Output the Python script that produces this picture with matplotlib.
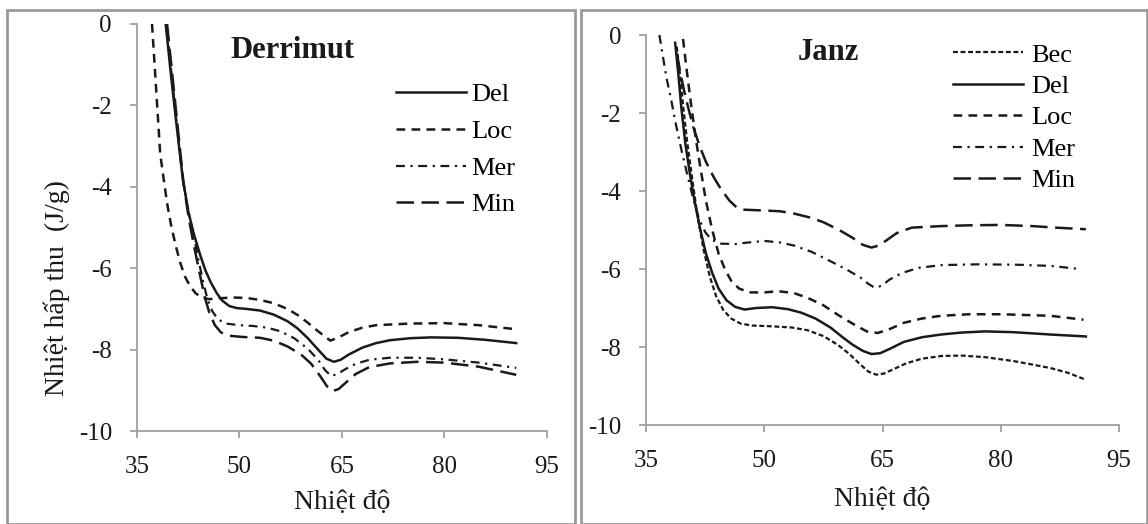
import matplotlib
matplotlib.use("Agg")
import matplotlib.pyplot as plt
from matplotlib.patches import Rectangle

plt.rcParams['font.family'] = ['Liberation Serif', 'DejaVu Serif']
plt.rcParams['axes.unicode_minus'] = False

# Derrimut
d_del_x = [39.2, 40.0, 40.8, 41.7, 42.5, 43.3, 44.2, 45.0, 45.8, 46.7, 47.5, 48.5, 49.6, 51.0, 53.0, 55.0, 57.0, 58.5, 60.0, 61.5, 62.7, 63.8, 64.8, 66.0, 68.0, 70.0, 72.0, 75.0, 78.0, 82.0, 86.0, 90.5]
d_del_y = [0.0, -1.3, -2.5, -3.8, -4.6, -5.15, -5.65, -6.05, -6.35, -6.62, -6.8, -6.93, -6.98, -7.0, -7.04, -7.14, -7.3, -7.48, -7.72, -8.0, -8.22, -8.3, -8.25, -8.12, -7.95, -7.84, -7.77, -7.72, -7.7, -7.71, -7.76, -7.84]
d_loc_x = [37.2, 37.5, 37.8, 38.1, 38.4, 38.9, 39.4, 40.0, 40.6, 41.3, 42.0, 42.8, 43.6, 44.5, 45.5, 47.0, 49.0, 51.0, 53.0, 55.0, 57.0, 58.5, 60.0, 61.5, 63.3, 64.5, 66.0, 68.0, 70.0, 75.0, 80.0, 85.0, 90.5]
d_loc_y = [0.0, -0.8, -1.6, -2.4, -3.2, -3.8, -4.4, -4.95, -5.4, -5.85, -6.2, -6.45, -6.62, -6.72, -6.76, -6.74, -6.72, -6.73, -6.78, -6.86, -7.0, -7.15, -7.34, -7.55, -7.78, -7.7, -7.57, -7.46, -7.4, -7.36, -7.35, -7.4, -7.5]
d_mer_x = [39.3, 40.1, 40.9, 41.7, 42.5, 43.3, 44.0, 44.7, 45.3, 46.0, 46.8, 48.0, 50.0, 52.0, 54.0, 56.0, 58.0, 60.0, 61.5, 62.5, 63.4, 64.3, 65.5, 67.0, 69.0, 72.0, 76.0, 80.0, 85.0, 90.5]
d_mer_y = [0.0, -1.3, -2.6, -3.8, -4.6, -5.2, -5.8, -6.35, -6.75, -7.05, -7.25, -7.36, -7.4, -7.42, -7.46, -7.55, -7.72, -7.98, -8.25, -8.5, -8.65, -8.6, -8.48, -8.35, -8.25, -8.2, -8.2, -8.24, -8.32, -8.45]
d_min_x = [39.4, 40.2, 41.0, 41.8, 42.6, 43.4, 44.2, 44.9, 45.6, 46.4, 47.3, 48.5, 50.5, 53.0, 55.0, 57.0, 59.0, 60.5, 61.8, 62.8, 63.6, 64.5, 65.5, 67.0, 69.0, 72.0, 76.0, 80.0, 85.0, 90.5]
d_min_y = [0.0, -1.3, -2.6, -3.9, -4.8, -5.5, -6.15, -6.7, -7.1, -7.4, -7.58, -7.66, -7.69, -7.71, -7.78, -7.92, -8.12, -8.35, -8.65, -8.9, -9.02, -8.97, -8.82, -8.6, -8.43, -8.34, -8.3, -8.32, -8.42, -8.62]

# Janz
j_bec_x = [38.9, 39.3, 39.7, 40.2, 40.8, 41.5, 42.3, 43.1, 43.9, 44.8, 45.8, 47.0, 48.5, 51.0, 53.5, 55.5, 57.5, 59.3, 60.8, 62.2, 63.2, 64.2, 65.2, 66.5, 68.0, 70.0, 72.5, 75.0, 78.0, 81.6, 84.0, 86.3, 88.5, 90.8]
j_bec_y = [-0.3, -1.0, -1.8, -2.7, -3.6, -4.6, -5.5, -6.2, -6.7, -7.05, -7.27, -7.4, -7.45, -7.47, -7.5, -7.57, -7.72, -7.94, -8.18, -8.45, -8.63, -8.71, -8.68, -8.56, -8.42, -8.3, -8.23, -8.22, -8.26, -8.36, -8.45, -8.54, -8.66, -8.84]
j_del_x = [38.7, 39.1, 39.5, 40.0, 40.6, 41.2, 41.9, 42.6, 43.4, 44.2, 45.2, 46.3, 47.5, 49.0, 51.0, 53.0, 54.7, 56.5, 58.4, 60.0, 61.2, 62.5, 63.6, 64.7, 66.0, 67.7, 70.0, 72.4, 75.0, 78.0, 81.6, 86.3, 90.8]
j_del_y = [-0.2, -1.0, -1.9, -2.8, -3.6, -4.3, -5.0, -5.6, -6.1, -6.5, -6.8, -6.97, -7.04, -7.0, -6.98, -7.03, -7.12, -7.27, -7.5, -7.76, -7.94, -8.1, -8.18, -8.16, -8.04, -7.87, -7.75, -7.68, -7.63, -7.6, -7.62, -7.68, -7.73]
j_loc_x = [39.7, 40.1, 40.6, 41.2, 41.9, 42.6, 43.4, 44.2, 45.0, 45.8, 46.8, 48.1, 50.0, 51.8, 53.8, 55.5, 57.5, 59.3, 61.2, 63.0, 64.4, 65.8, 67.7, 70.0, 72.4, 76.0, 80.0, 86.3, 90.5]
j_loc_y = [-0.1, -0.8, -1.6, -2.5, -3.4, -4.25, -5.0, -5.6, -6.0, -6.3, -6.5, -6.6, -6.6, -6.57, -6.62, -6.74, -6.93, -7.17, -7.4, -7.6, -7.64, -7.55, -7.38, -7.27, -7.2, -7.16, -7.16, -7.2, -7.3]
j_mer_x = [36.7, 37.1, 37.6, 38.2, 38.8, 39.5, 40.2, 41.0, 41.7, 42.5, 43.3, 44.5, 46.3, 48.0, 50.0, 52.0, 53.8, 56.0, 58.4, 60.5, 62.2, 63.2, 64.0, 64.9, 65.9, 67.5, 69.6, 72.5, 77.0, 82.0, 86.3, 90.0]
j_mer_y = [0.0, -0.5, -1.1, -1.67, -2.3, -2.95, -3.55, -4.2, -4.7, -5.05, -5.25, -5.35, -5.36, -5.32, -5.28, -5.32, -5.4, -5.56, -5.8, -6.02, -6.22, -6.38, -6.48, -6.43, -6.27, -6.1, -5.97, -5.9, -5.88, -5.89, -5.92, -6.0]
j_min_x = [38.9, 39.3, 39.8, 40.4, 41.0, 41.8, 42.6, 43.6, 44.6, 45.6, 46.5, 47.5, 50.0, 52.0, 53.8, 55.8, 57.5, 59.5, 61.2, 62.5, 63.6, 64.5, 65.4, 66.8, 68.7, 72.4, 76.0, 80.0, 84.0, 87.0, 90.8]
j_min_y = [-0.47, -0.9, -1.4, -1.9, -2.36, -2.85, -3.25, -3.65, -3.98, -4.25, -4.42, -4.48, -4.5, -4.52, -4.58, -4.68, -4.8, -5.0, -5.2, -5.38, -5.45, -5.4, -5.28, -5.08, -4.94, -4.9, -4.88, -4.87, -4.9, -4.94, -4.98]

xticks = [35, 50, 65, 80, 95]
yticks = [0, -2, -4, -6, -8, -10]

ink = '#1a1a1a'
styles = {
    'Bec': dict(ls=(0, (2.2, 1.2)), lw=1.6),
    'Del': dict(ls='-', lw=1.8),
    'Loc': dict(ls=(0, (3.5, 2.5)), lw=1.8),
    'Mer': dict(ls=(0, (4, 2.5, 1, 2.5)), lw=1.6),
    'Min': dict(ls=(0, (7, 3)), lw=1.8),
}

fig = plt.figure(figsize=(11.48, 5.24), dpi=100)
W, H = 1148, 524

# panel frames
for x0, x1 in [(7, 575), (581, 1147)]:
    fig.add_artist(Rectangle((x0 / W, 0), (x1 - x0) / W, (H - 10) / H,
                             transform=fig.transFigure, fill=False,
                             edgecolor='#9a9a9a', lw=2))

ax1 = fig.add_axes([137 / W, 1 - 431 / H, 410 / W, 407 / H])
ax2 = fig.add_axes([646 / W, 1 - 425 / H, 473 / W, 390 / H])


def style_axes(ax):
    ax.set_xlim(35, 95)
    ax.set_ylim(-10, 0)
    ax.set_xticks(xticks)
    ax.set_yticks(yticks)
    for s in ['top', 'right']:
        ax.spines[s].set_visible(False)
    for s in ['left', 'bottom']:
        ax.spines[s].set_color('#a0a0a0')
        ax.spines[s].set_linewidth(1.3)
    ax.tick_params(direction='out', length=5, width=1.3, color='#a0a0a0',
                   labelsize=18, labelcolor=ink)
    ax.tick_params(axis='x', pad=13)
    ax.tick_params(axis='y', pad=13)
    ax.set_xlabel('Nhiệt độ', fontsize=20, color=ink)


style_axes(ax1)
for name, x, y in [('Del', d_del_x, d_del_y), ('Loc', d_loc_x, d_loc_y),
                   ('Mer', d_mer_x, d_mer_y), ('Min', d_min_x, d_min_y)]:
    ax1.plot(x, y, color=ink, label=name, **styles[name])
ax1.set_ylabel('Nhiệt hấp thu  (J/g)', fontsize=20, color=ink)
ax1.yaxis.set_label_coords(-0.163, 0.351)
ax1.xaxis.set_label_coords(0.5, -0.145)
ax1.text(0.38, 0.935, 'Derrimut', transform=ax1.transAxes, fontsize=22,
         fontweight='bold', ha='center', va='center', color=ink)
ax1.legend(loc='upper left', bbox_to_anchor=(0.632, 0.855), frameon=False,
           borderpad=0, borderaxespad=0, fontsize=19, handlelength=2.65,
           handletextpad=0.2, labelspacing=0.5)

style_axes(ax2)
for name, x, y in [('Bec', j_bec_x, j_bec_y), ('Del', j_del_x, j_del_y),
                   ('Loc', j_loc_x, j_loc_y), ('Mer', j_mer_x, j_mer_y),
                   ('Min', j_min_x, j_min_y)]:
    ax2.plot(x, y, color=ink, label=name, **styles[name])
ax2.xaxis.set_label_coords(0.5, -0.159)
ax2.text(0.385, 0.955, 'Janz', transform=ax2.transAxes, fontsize=22,
         fontweight='bold', ha='center', va='center', color=ink)
ax2.legend(loc='upper left', bbox_to_anchor=(0.649, 0.979), frameon=False,
           borderpad=0, borderaxespad=0, fontsize=19, handlelength=2.65,
           handletextpad=0.3, labelspacing=0.3)

fig.savefig('out.png', dpi=100)
